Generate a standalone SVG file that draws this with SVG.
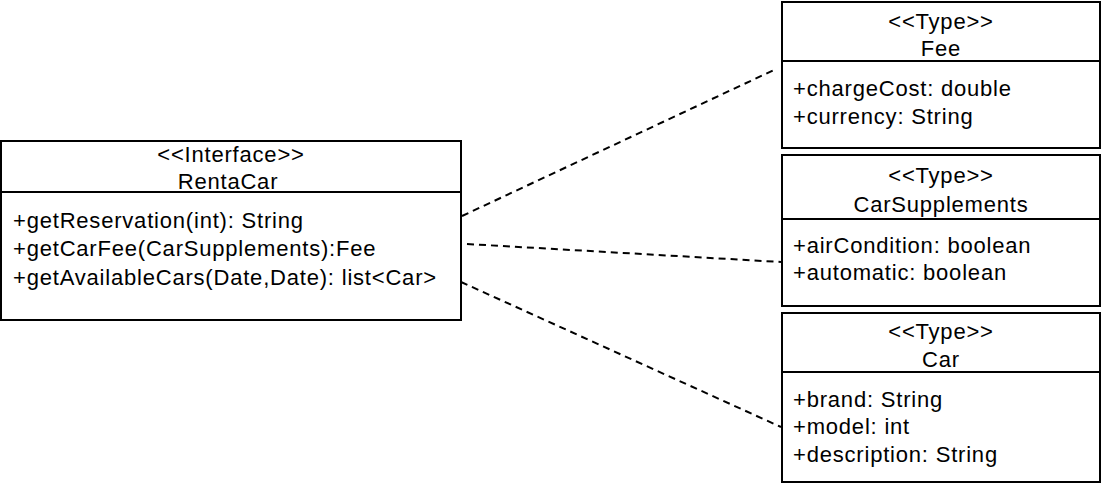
<svg xmlns="http://www.w3.org/2000/svg" width="1102" height="488" viewBox="0 0 1102 488">
<style>
.box{fill:#fff;stroke:#000;stroke-width:2}
.div{stroke:#000;stroke-width:2}
text{font-family:"Liberation Sans",Arial,sans-serif;font-size:22px;letter-spacing:0.8px;fill:#000}
.c{text-anchor:middle}
.conn{stroke:#000;stroke-width:2;stroke-dasharray:7 5;fill:none}
</style>
<rect width="1102" height="488" fill="#fff"/>
<g id="connectors">
<line class="conn" x1="462" y1="216" x2="774" y2="70"/>
<line class="conn" x1="467" y1="244" x2="781" y2="262"/>
<line class="conn" x1="461" y1="282" x2="781" y2="427"/>
</g>
<g id="RentaCar">
<rect class="box" x="1" y="141" width="460" height="179"/>
<line class="div" x1="1" y1="192" x2="461" y2="192"/>
<text class="c" x="231" y="162">&lt;&lt;Interface&gt;&gt;</text>
<text class="c" x="228" y="189">RentaCar</text>
<text x="13" y="228">+getReservation(int): String</text>
<text x="13" y="256">+getCarFee(CarSupplements):Fee</text>
<text x="13" y="285">+getAvailableCars(Date,Date): list&lt;Car&gt;</text>
</g>
<g id="Fee">
<rect class="box" x="782" y="2" width="318" height="146"/>
<line class="div" x1="782" y1="61" x2="1100" y2="61"/>
<text class="c" x="941" y="29">&lt;&lt;Type&gt;&gt;</text>
<text class="c" x="941" y="56">Fee</text>
<text x="793" y="96">+chargeCost: double</text>
<text x="793" y="124">+currency: String</text>
</g>
<g id="CarSupplements">
<rect class="box" x="782" y="155" width="318" height="151"/>
<line class="div" x1="782" y1="219" x2="1100" y2="219"/>
<text class="c" x="941" y="183">&lt;&lt;Type&gt;&gt;</text>
<text class="c" x="941" y="212">CarSupplements</text>
<text x="793" y="253">+airCondition: boolean</text>
<text x="793" y="280">+automatic: boolean</text>
</g>
<g id="Car">
<rect class="box" x="782" y="313" width="318" height="169"/>
<line class="div" x1="782" y1="372" x2="1100" y2="372"/>
<text class="c" x="941" y="339">&lt;&lt;Type&gt;&gt;</text>
<text class="c" x="941" y="367">Car</text>
<text x="793" y="407">+brand: String</text>
<text x="793" y="434">+model: int</text>
<text x="793" y="462">+description: String</text>
</g>
</svg>
